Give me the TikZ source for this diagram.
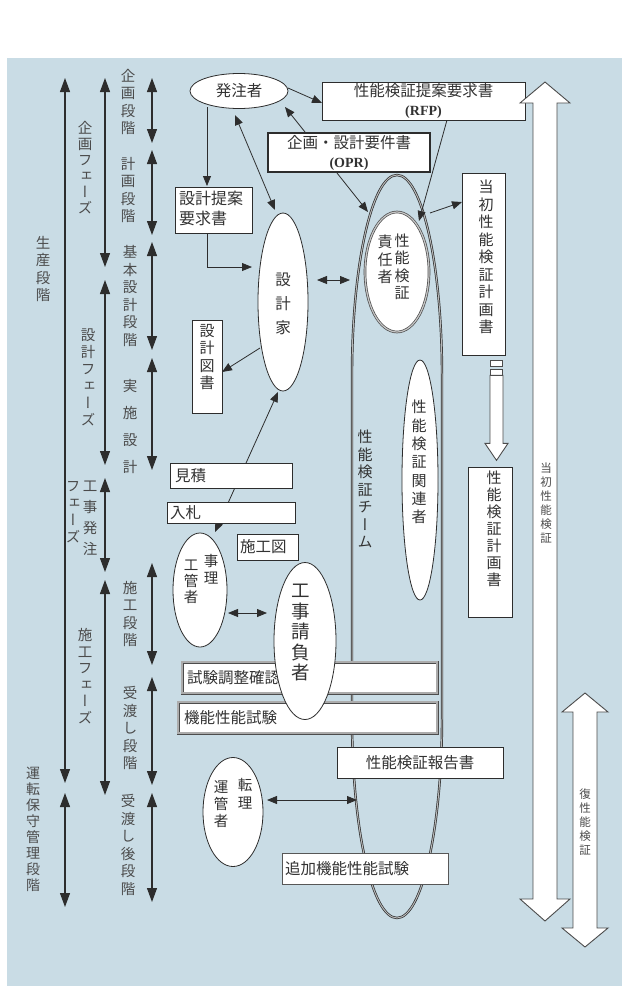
\documentclass[tikz,border=0pt]{standalone}
\usepackage{fontspec}
\setmainfont{Noto Sans CJK JP}
\newfontfamily\vj[RawFeature=+vert]{Noto Sans CJK JP}
\newfontfamily\lat{Liberation Serif}
\usetikzlibrary{arrows.meta,shapes.geometric,calc}
\pgfdeclarelayer{back}
\pgfdeclarelayer{mid}
\pgfsetlayers{back,mid,main}
\definecolor{bg}{RGB}{201,220,229}
\definecolor{ln}{RGB}{45,45,45}
\definecolor{tx}{RGB}{50,50,50}
\definecolor{lb}{RGB}{75,75,75}
\begin{document}
\begin{tikzpicture}[x=1pt,y=-1pt,
 tl/.style={draw=ln, line width=1.1pt, {Triangle[length=14pt,width=10pt]}-{Triangle[length=14pt,width=10pt]}},
 ar/.style={draw=ln, line width=0.8pt, -{Triangle[length=10pt,width=8pt]}},
 dar/.style={draw=ln, line width=0.8pt, {Triangle[length=10pt,width=8pt]}-{Triangle[length=10pt,width=8pt]}},
 vl/.style={font=\vj\fontsize{14.5}{17.5}\selectfont, align=center, inner sep=0pt, text=lb},
 vt/.style={font=\vj\fontsize{15}{17.5}\selectfont, align=center, inner sep=0pt, text=tx},
 vs/.style={font=\vj\fontsize{11.5}{14}\selectfont, align=center, inner sep=0pt, text=lb},
 ht/.style={font=\fontsize{15.5}{18}\selectfont, text=tx, inner sep=0pt},
 rbox/.style={draw=ln, line width=0.8pt, fill=white, inner sep=0pt},
 dbox/.style={draw=ln!85, double=gray!65, double distance=1.4pt, line width=0.8pt, fill=white, inner sep=0pt},
 ell/.style={ellipse, draw=ln, line width=0.8pt, fill=white, inner sep=0pt},
 dell/.style={ellipse, draw=ln!85, double=gray!45, double distance=1.2pt, line width=0.7pt, fill=white, inner sep=0pt},
 teamline/.style={draw=ln, line width=0.7pt, double=gray!55, double distance=1pt},
 harrow/.style={draw=ln!85, fill=white, line width=0.9pt, line join=miter},
]
\useasboundingbox (0,0) rectangle (629,986);
\begin{pgfonlayer}{back}
\fill[bg] (7,58) rectangle (622,986);
\end{pgfonlayer}

% ---------- left time scale ----------
\draw[tl] (65,78) -- (65,783);
\draw[tl] (65,793) -- (65,907);
\draw[tl] (105,78) -- (105,267);
\draw[tl] (105,280) -- (105,465);
\draw[tl] (105,478) -- (105,572);
\draw[tl] (105,580) -- (105,795);
\draw[tl] (152,78) -- (152,143);
\draw[tl] (152,150) -- (152,235);
\draw[tl] (152,242) -- (152,350);
\draw[tl] (152,358) -- (152,470);
\draw[tl] (152,563) -- (152,665);
\draw[tl] (152,677) -- (152,785);
\draw[tl] (152,793) -- (152,902);

\node[vl] (l1) at (43,269) {生\\産\\段\\階};
\node[vl, font=\vj\fontsize{14}{16}\selectfont] (l2) at (33,829) {運\\転\\保\\守\\管\\理\\段\\階};
\node[vl, font=\vj\fontsize{14.5}{16}\selectfont] (p1) at (85,168) {企\\画\\フ\\ェ\\ー\\ズ};
\node[vl, font=\vj\fontsize{14.5}{17}\selectfont] (p2) at (88,377) {設\\計\\フ\\ェ\\ー\\ズ};
\node[vl, font=\vj\fontsize{14.5}{21}\selectfont] (p3a) at (90,518) {工\\事\\発\\注};
\node[vl, font=\vj\fontsize{14.5}{17}\selectfont] (p3b) at (73,512) {フ\\ェ\\ー\\ズ};
\node[vl, font=\vj\fontsize{14.5}{16.5}\selectfont] (p4) at (85,676) {施\\工\\フ\\ェ\\ー\\ズ};
\node[vl] (s1) at (128,102) {企\\画\\段\\階};
\node[vl] (s2) at (128,190) {計\\画\\段\\階};
\node[vl] (s3) at (130,296) {基\\本\\設\\計\\段\\階};
\node[vl, font=\vj\fontsize{14.5}{27}\selectfont] (s4) at (130,426) {実\\施\\設\\計};
\node[vl] (s5) at (130,614) {施\\工\\段\\階};
\node[vl] (s6) at (130,728) {受\\渡\\し\\段\\階};
\node[vl] (s7) at (128,845) {受\\渡\\し\\後\\段\\階};

% ---------- team shape ----------
\begin{pgfonlayer}{mid}
\draw[teamline] (352,375) .. controls (352,264.5) and (372.1,175) .. (397,175)
  .. controls (421.9,175) and (442,264.5) .. (442,375) -- (442,718)
  .. controls (442,828.5) and (421.9,918) .. (397,918)
  .. controls (372.1,918) and (352,828.5) .. (352,718) -- cycle;
\end{pgfonlayer}
\coordinate (team) at (397,546);
\node[vt] (teamtxt) at (365,489) {性\\能\\検\\証\\チ\\ー\\ム};

% ---------- boxes ----------
\node[rbox, minimum width=203, minimum height=38, align=center, font=\fontsize{15.5}{19}\selectfont, text=tx] (rfp) at (423.5,101) {性能検証提案要求書\\{\lat\bfseries\fontsize{14}{16}\selectfont (RFP)}};
\node[rbox, line width=2pt, minimum width=162, minimum height=39, align=center, font=\fontsize{15.5}{19}\selectfont, text=tx] (opr) at (349,152.5) {企画・設計要件書\\{\lat\bfseries\fontsize{14}{16}\selectfont (OPR)}};
\node[rbox, minimum width=77, minimum height=46] (req) at (213.5,210) {};
\node[ht, anchor=north west, align=left, font=\fontsize{16}{20}\selectfont] (reqtxt) at (179,191) {設計提案\\要求書};
\node[rbox, minimum width=30, minimum height=93] (zusho) at (207,366.5) {};
\node[vt] (zushotxt) at (207,357) {設\\計\\図\\書};
\node[rbox, minimum width=122, minimum height=25] (mitsu) at (231,475.5) {};
\node[ht, anchor=west] (mitsutxt) at (175,475.5) {見積};
\node[rbox, minimum width=128, minimum height=21] (nyu) at (231,512.5) {};
\node[ht, anchor=west] (nyutxt) at (170,512.5) {入札};
\node[rbox, minimum width=61, minimum height=26] (sekozu) at (267.5,547) {};
\node[ht, anchor=west] (sekozutxt) at (240,547) {施工図};
\node[dbox, minimum width=255, minimum height=31] (shiken) at (309.5,677.5) {};
\node[ht, anchor=west] (shikentxt) at (187,677.5) {試験調整確認};
\node[dbox, minimum width=259, minimum height=31] (kino) at (307.5,717.5) {};
\node[ht, anchor=west] (kinotxt) at (184,717.5) {機能性能試験};
\node[rbox, minimum width=166, minimum height=31] (houkoku) at (420,762.5) {};
\node[ht] (houkokutxt) at (420,762.5) {性能検証報告書};
\node[rbox, draw=ln!80, minimum width=166, minimum height=31] (tsuika) at (365,868.5) {};
\node[ht, anchor=west] (tsuikatxt) at (285,868.5) {追加機能性能試験};
\node[rbox, minimum width=43, minimum height=182] (tosho) at (483.5,264) {};
\node[vt] (toshotxt) at (486,257) {当\\初\\性\\能\\検\\証\\計\\画\\書};
\node[rbox, minimum width=44, minimum height=150] (keikaku) at (490,542) {};
\node[vt, font=\vj\fontsize{15}{17}\selectfont] (keikakutxt) at (494,529) {性\\能\\検\\証\\計\\画\\書};

% ---------- ellipses ----------
\node[ell, minimum width=98, minimum height=35, font=\fontsize{15.5}{18}\selectfont, text=tx] (hatch) at (239,91) {発注者};
\node[ell, minimum width=50, minimum height=178] (sekkeika) at (283,302) {};
\node[vt, font=\vj\fontsize{15.5}{24}\selectfont] (sekkeikatxt) at (283,304) {設\\計\\家};
\node[dell, minimum width=64, minimum height=120] (seki) at (397,272) {};
\node[vt] (seki1) at (402,267) {性\\能\\検\\証};
\node[vt] (seki2) at (385,259.5) {責\\任\\者};
\node[ell, minimum width=36, minimum height=240] (kanren) at (420,480) {};
\node[vt, font=\vj\fontsize{15}{18.3}\selectfont] (kanrentxt) at (419,462) {性\\能\\検\\証\\関\\連\\者};
\node[ell, minimum width=54, minimum height=114] (kanri) at (200,590) {};
\node[vt, font=\vj\fontsize{14.5}{16}\selectfont] (kanri1) at (191,582) {工\\管\\者};
\node[vt, font=\vj\fontsize{14.5}{17}\selectfont] (kanri2) at (211,569) {事\\理};
\node[ell, minimum width=62, minimum height=157] (ukeoi) at (305,641) {};
\node[vt, font=\vj\fontsize{18.5}{20.5}\selectfont] (ukeoitxt) at (301,633) {工\\事\\請\\負\\者};
\node[ell, minimum width=60, minimum height=109] (unten) at (233,812) {};
\node[vt, font=\vj\fontsize{14.5}{17}\selectfont] (unten1) at (221,804) {運\\管\\者};
\node[vt, font=\vj\fontsize{14.5}{18}\selectfont] (unten2) at (245,794) {転\\理};

% ---------- connectors ----------
\begin{pgfonlayer}{mid}
\draw[ar] ($(hatch)+(49,-3)$) -- ($(rfp)+(-101.5,2)$);
\draw[ar] ($(opr)+(-44,-20.5)$) -- ($(hatch)+(46,16)$);
\draw[dar] ($(hatch)+(-4,24)$) -- ($(sekkeika)+(-8,-92)$);
\draw[ar] ($(hatch)+(-32,16)$) -- ($(req)+(-6.5,-24)$);
\draw[ar] ($(req)+(-6.5,23)$) |- ($(sekkeika)+(-31,-35)$);
\draw[dar] ($(sekkeika)+(34,-22)$) -- ($(team)+(-47,-266)$);
\draw[ar] ($(opr)+(-12,20.5)$) -- ($(seki)+(-29,-60)$);
\draw[ar] ($(rfp)+(23.5,19)$) -- ($(seki)+(22,-51)$);
\draw[ar] ($(team)+(33,-333)$) -- ($(tosho)+(-21.5,-62)$);
\draw[ar] ($(sekkeika)+(-23,46)$) -- ($(zusho)+(15,5.5)$);
\draw[dar] ($(kanri)+(15,-58)$) -- ($(sekkeika)+(-5,90)$);
\draw[dar] ($(kanri)+(28,23)$) -- ($(ukeoi)+(-38,-28)$);
\draw[dar] ($(unten)+(34,-12)$) -- ($(team)+(-40,254)$);
\end{pgfonlayer}

% ---------- hollow arrows ----------
\begin{scope}[shift={(tosho.south)}]
\draw[harrow, line width=0.7pt] (6.5,5) rectangle (18.5,11);
\draw[harrow, line width=0.7pt] (6.5,14) rectangle (18.5,20);
\draw[harrow] (6.5,20) -- (19.5,20) -- (19.5,88) -- (24.5,88) -- (13,105) -- (1.5,88) -- (6.5,88) -- cycle;
\end{scope}
\draw[harrow] (545,82) -- (570,103) -- (557,103) -- (557,899) -- (570,899) -- (545,921) -- (520,899) -- (533,899) -- (533,103) -- (520,103) -- cycle;
\draw[harrow] (585,693) -- (608,712) -- (597,712) -- (597,928) -- (608,928) -- (585,947) -- (562,928) -- (573,928) -- (573,712) -- (562,712) -- cycle;
\node[vs] (big1) at (546,503) {当\\初\\性\\能\\検\\証};
\node[vs] (big2) at (585,822) {復\\性\\能\\検\\証};
\end{tikzpicture}
\end{document}
